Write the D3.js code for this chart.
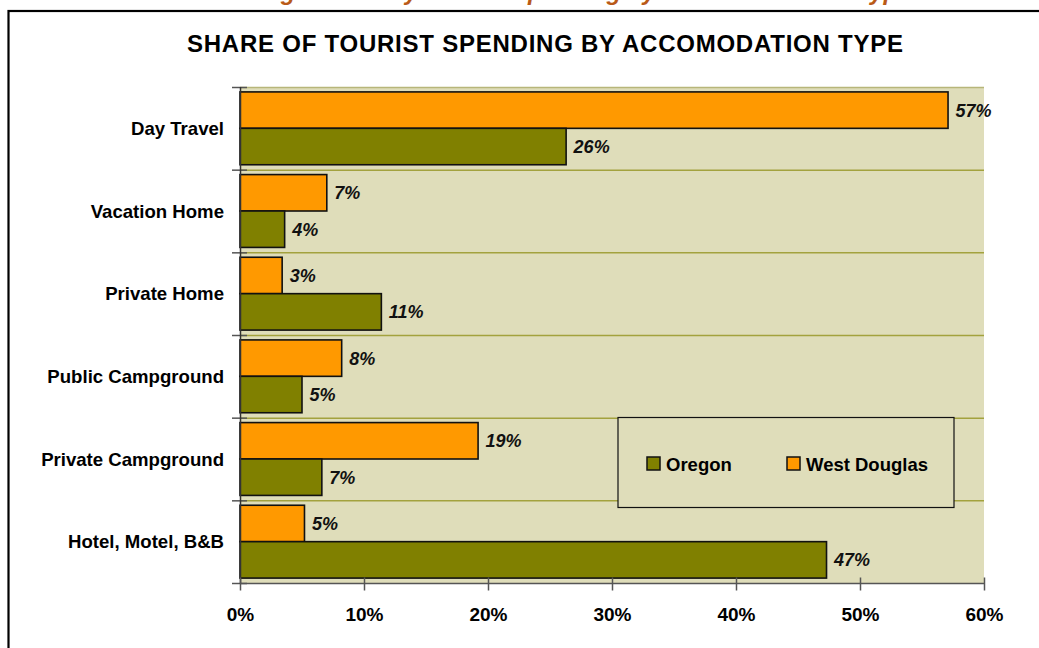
<!DOCTYPE html>
<html>
<head>
<meta charset="utf-8">
<script src="https://cdn.jsdelivr.net/npm/d3@7"></script>
<style>
  html, body { margin: 0; padding: 0; background: #ffffff; overflow: hidden; }
  svg { display: block; font-family: "Liberation Sans", Arial, sans-serif; }
</style>
</head>
<body>
<svg id="chart" width="1039" height="648"></svg>
<script>
const categories = ["Day Travel", "Vacation Home", "Private Home", "Public Campground", "Private Campground", "Hotel, Motel, B&B"];
const seriesNames = ["West Douglas", "Oregon"];
const westDouglas = [57.1, 7.0, 3.4, 8.2, 19.2, 5.2];
const oregon = [26.3, 3.6, 11.4, 5.0, 6.6, 47.3];
const xTicks = [0, 10, 20, 30, 40, 50, 60];
const legendOrder = ["Oregon", "West Douglas"];
const chartTitle = "SHARE OF TOURIST SPENDING BY ACCOMODATION TYPE";
const pageTitle = "West Douglas County Tourist Spending by Accommodation Type";

const colors = { "West Douglas": "#FF9900", "Oregon": "#808000" };
const values = { "West Douglas": westDouglas, "Oregon": oregon };

const svg = d3.select("#chart");

// cropped page heading above frame (cut off in the reference too)
svg.append("text")
  .attr("x", 541).attr("y", -0.5)
  .attr("text-anchor", "middle")
  .attr("font-size", 24).attr("font-weight", "bold").attr("font-style", "italic")
  .attr("fill", "#B95A17")
  .text(pageTitle);

// chart frame
svg.append("rect")
  .attr("x", 8.5).attr("y", 11).attr("width", 1100).attr("height", 700)
  .attr("fill", "#ffffff").attr("stroke", "#000").attr("stroke-width", 2.2);

// chart title
svg.append("text")
  .attr("x", 545).attr("y", 52)
  .attr("text-anchor", "middle")
  .attr("font-size", 24).attr("font-weight", "bold")
  .attr("textLength", 716).attr("lengthAdjust", "spacing")
  .attr("fill", "#000")
  .text(chartTitle);

const plot = { left: 240, right: 984, top: 87, bottom: 583 };

const x = d3.scaleLinear().domain([0, 60]).range([plot.left, plot.right]);
const y = d3.scaleBand().domain(categories).range([plot.top, plot.bottom]).padding(0);
const ySub = d3.scaleBand().domain(seriesNames).range([0, y.bandwidth()]).paddingInner(0).paddingOuter(0.135);

// plot background
svg.append("rect")
  .attr("x", plot.left).attr("y", plot.top)
  .attr("width", plot.right - plot.left).attr("height", plot.bottom - plot.top)
  .attr("fill", "#DFDDBA");

// gridlines at band boundaries
const bounds = categories.map(c => y(c));
svg.append("g").selectAll("line").data(bounds).join("line")
  .attr("x1", plot.left).attr("x2", plot.right)
  .attr("y1", d => d + 0.5).attr("y2", d => d + 0.5)
  .attr("stroke", (d, i) => i === 0 ? "#B7B67A" : "#A3A23E")
  .attr("stroke-width", 1.5);

// bars
const rows = [];
categories.forEach((c, i) => {
  seriesNames.forEach(s => rows.push({ cat: c, series: s, value: values[s][i] }));
});

const barG = svg.append("g");
barG.selectAll("rect").data(rows).join("rect")
  .attr("x", x(0))
  .attr("y", d => y(d.cat) + ySub(d.series))
  .attr("width", d => x(d.value) - x(0))
  .attr("height", ySub.bandwidth())
  .attr("fill", d => colors[d.series])
  .attr("stroke", "#111")
  .attr("stroke-width", 1.6);

barG.selectAll("text").data(rows).join("text")
  .attr("x", d => x(d.value) + 7.5)
  .attr("y", d => y(d.cat) + ySub(d.series) + ySub.bandwidth() / 2 + 6.5)
  .attr("font-size", 18).attr("font-weight", "bold").attr("font-style", "italic")
  .attr("fill", "#111")
  .text(d => d3.format(".0f")(d.value) + "%");

// y axis: line, crossing ticks at band boundaries, labels at centers
const yAxisG = svg.append("g").attr("transform", `translate(${plot.left},0)`)
  .call(d3.axisLeft(y).tickSize(0).tickPadding(16));
yAxisG.select(".domain").remove();
yAxisG.selectAll("text")
  .attr("font-size", 18.6).attr("font-weight", "bold").attr("fill", "#000")
  .attr("font-family", "Liberation Sans, Arial, sans-serif")
  .attr("dy", "0.35em");

const tickBounds = bounds.concat([plot.bottom]);
svg.append("g").selectAll("line").data(tickBounds).join("line")
  .attr("x1", plot.left - 8).attr("x2", plot.left + 7)
  .attr("y1", d => d + 0.5).attr("y2", d => d + 0.5)
  .attr("stroke", "#555").attr("stroke-width", 1.5);
svg.append("line")
  .attr("x1", plot.left + 0.5).attr("x2", plot.left + 0.5)
  .attr("y1", plot.top).attr("y2", plot.bottom + 1)
  .attr("stroke", "#333").attr("stroke-width", 1.5);

// x axis
const xAxisG = svg.append("g").attr("transform", `translate(0,${plot.bottom + 0.5})`)
  .call(d3.axisBottom(x).tickValues(xTicks).tickSize(7).tickPadding(17).tickFormat(d => d + "%"));
xAxisG.select(".domain").attr("stroke", "#555").attr("stroke-width", 1.5)
  .attr("d", `M${plot.left},0H${plot.right}`);
xAxisG.selectAll(".tick line").attr("stroke", "#555").attr("stroke-width", 1.5).attr("y1", -6);
xAxisG.selectAll(".tick text")
  .attr("font-size", 19).attr("font-weight", "bold").attr("fill", "#000")
  .attr("font-family", "Liberation Sans, Arial, sans-serif");

// legend
const legend = svg.append("g");
legend.append("rect")
  .attr("x", 618).attr("y", 417.5).attr("width", 336).attr("height", 90)
  .attr("fill", "#DFDDBA").attr("stroke", "#111").attr("stroke-width", 1.2);
const legendX = d3.scalePoint().domain(legendOrder).range([647, 787]);
const items = legend.selectAll("g.item").data(legendOrder).join("g").attr("class", "item")
  .attr("transform", d => `translate(${legendX(d)},457)`);
items.append("rect")
  .attr("width", 13).attr("height", 13)
  .attr("fill", d => colors[d]).attr("stroke", "#111").attr("stroke-width", 1.5);
items.append("text")
  .attr("x", 19).attr("y", 14)
  .attr("font-size", 18.5).attr("font-weight", "bold").attr("fill", "#000")
  .text(d => d);
</script>
</body>
</html>
